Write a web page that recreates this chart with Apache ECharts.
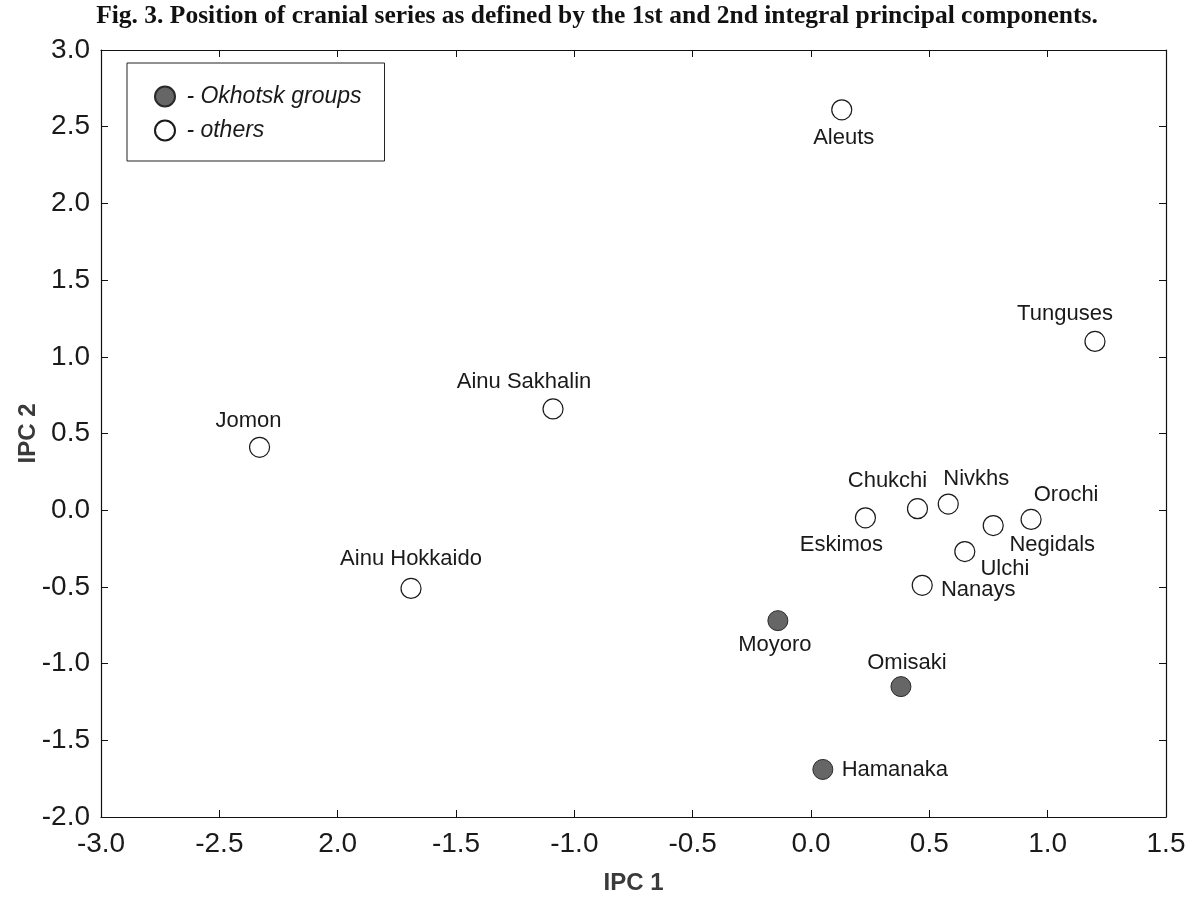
<!DOCTYPE html>
<html>
<head>
<meta charset="utf-8">
<script src="https://cdn.jsdelivr.net/npm/echarts@6/dist/echarts.min.js"></script>
<style>
  html, body { margin: 0; padding: 0; background: #fff; }
  #chart { width: 1194px; height: 904px; }
</style>
</head>
<body>
<div id="chart"></div>
<script>
// Integral principal component scores (IPC 1, IPC 2) of cranial series
const okhotskNames = ['Moyoro', 'Omisaki', 'Hamanaka'];
const okhotskIPC1 = [-0.14, 0.38, 0.05];
const okhotskIPC2 = [-0.72, -1.15, -1.69];

const otherNames = ['Aleuts', 'Tunguses', 'Ainu Sakhalin', 'Jomon', 'Ainu Hokkaido',
  'Chukchi', 'Nivkhs', 'Orochi', 'Eskimos', 'Negidals', 'Ulchi', 'Nanays'];
const otherIPC1 = [0.13, 1.20, -1.09, -2.33, -1.69, 0.45, 0.58, 0.93, 0.23, 0.77, 0.65, 0.47];
const otherIPC2 = [2.61, 1.10, 0.66, 0.41, -0.51, 0.01, 0.04, -0.06, -0.05, -0.10, -0.27, -0.49];

// Axis tick labels as printed on the figure
const xTickLabels = ['-3.0', '-2.5', '2.0', '-1.5', '-1.0', '-0.5', '0.0', '0.5', '1.0', '1.5'];
const yTickLabels = ['-2.0', '-1.5', '-1.0', '-0.5', '0.0', '0.5', '1.0', '1.5', '2.0', '2.5', '3.0'];

const X_MIN = -3, X_MAX = 1.5, Y_MIN = -2, Y_MAX = 3, STEP = 0.5;

// Where each name sits relative to its marker (pixel offset of the label centre)
const labelOffsets = {
  'Aleuts': [2, 28], 'Tunguses': [-30, -28], 'Ainu Sakhalin': [-29, -27],
  'Jomon': [-11, -26], 'Ainu Hokkaido': [0, -29], 'Chukchi': [-30, -28],
  'Nivkhs': [28, -25], 'Orochi': [35, -24], 'Eskimos': [-24, 27],
  'Negidals': [59, 19], 'Ulchi': [40, 17], 'Nanays': [56, 5],
  'Moyoro': [-3, 24], 'Omisaki': [6, -24], 'Hamanaka': [72, 0]
};

function buildPoints(names, xs, ys) {
  return names.map((n, i) => ({
    name: n,
    value: [xs[i], ys[i]],
    label: { offset: labelOffsets[n] || [0, 0] }
  }));
}

const sansFont = '"Liberation Sans", Arial, sans-serif';
const labelStyle = {
  show: true,
  position: 'inside',
  formatter: '{b}',
  color: '#1a1a1a',
  fontFamily: sansFont,
  fontSize: 22,
  align: 'center',
  verticalAlign: 'middle'
};

const tickCommon = { show: true, inside: true, length: 7, lineStyle: { color: '#111', width: 1 } };
const lineCommon = { show: true, onZero: false, lineStyle: { color: '#111', width: 1.2 } };
const axisNameStyle = {
  fontFamily: '"Liberation Sans Narrow", ' + sansFont,
  fontWeight: 'bold', fontSize: 24, color: '#3a3a3a'
};

const chart = echarts.init(document.getElementById('chart'), null, { renderer: 'canvas' });
chart.setOption({
  animation: false,
  backgroundColor: '#fff',
  title: {
    text: 'Fig. 3. Position of cranial series as defined by the 1st and 2nd integral principal components.',
    left: 'center',
    top: -2,
    textStyle: {
      fontFamily: '"Liberation Serif", "Times New Roman", serif',
      fontWeight: 'bold',
      fontSize: 25.5,
      color: '#111'
    }
  },
  legend: {
    orient: 'vertical',
    left: 127,
    top: 63,
    padding: [22, 23, 19, 27],
    itemGap: 11,
    itemWidth: 20,
    itemHeight: 20,
    borderColor: '#222',
    borderWidth: 1,
    borderRadius: 0,
    formatter: ' - {name}',
    textStyle: { fontFamily: sansFont, fontStyle: 'italic', fontSize: 23, color: '#1a1a1a' },
    data: ['Okhotsk groups', 'others']
  },
  grid: { left: 101, right: 28, top: 50, bottom: 87, containLabel: false, outerBoundsMode: 'none' },
  xAxis: [
    {
      type: 'value', min: X_MIN, max: X_MAX, interval: STEP, position: 'bottom',
      name: 'IPC 1', nameLocation: 'middle', nameGap: 54, nameMoveOverlap: false,
      nameTextStyle: axisNameStyle,
      axisLine: lineCommon, axisTick: tickCommon, splitLine: { show: false },
      axisLabel: {
        margin: 13, fontFamily: sansFont, fontSize: 28, color: '#1a1a1a',
        formatter: v => xTickLabels[Math.round((v - X_MIN) / STEP)]
      }
    },
    {
      type: 'value', min: X_MIN, max: X_MAX, interval: STEP, position: 'top',
      axisLine: lineCommon, axisTick: tickCommon, splitLine: { show: false },
      axisLabel: { show: false }
    }
  ],
  yAxis: [
    {
      type: 'value', min: Y_MIN, max: Y_MAX, interval: STEP, position: 'left',
      name: 'IPC 2', nameLocation: 'middle', nameGap: 61, nameMoveOverlap: false,
      nameTextStyle: axisNameStyle,
      axisLine: lineCommon, axisTick: tickCommon, splitLine: { show: false },
      axisLabel: {
        margin: 11, fontFamily: sansFont, fontSize: 28, color: '#1a1a1a',
        formatter: v => yTickLabels[Math.round((v - Y_MIN) / STEP)]
      }
    },
    {
      type: 'value', min: Y_MIN, max: Y_MAX, interval: STEP, position: 'right',
      axisLine: lineCommon, axisTick: tickCommon, splitLine: { show: false },
      axisLabel: { show: false }
    }
  ],
  series: [
    {
      name: 'Okhotsk groups',
      type: 'scatter',
      xAxisIndex: 0, yAxisIndex: 0,
      symbol: 'circle',
      symbolSize: 20,
      itemStyle: { color: '#666', borderColor: '#2a2a2a', borderWidth: 1, opacity: 1 },
      label: labelStyle,
      data: buildPoints(okhotskNames, okhotskIPC1, okhotskIPC2)
    },
    {
      name: 'others',
      type: 'scatter',
      xAxisIndex: 0, yAxisIndex: 0,
      symbol: 'circle',
      symbolSize: 20,
      itemStyle: { color: '#fff', borderColor: '#1a1a1a', borderWidth: 1.2, opacity: 1 },
      label: labelStyle,
      data: buildPoints(otherNames, otherIPC1, otherIPC2)
    }
  ]
});
</script>
</body>
</html>
